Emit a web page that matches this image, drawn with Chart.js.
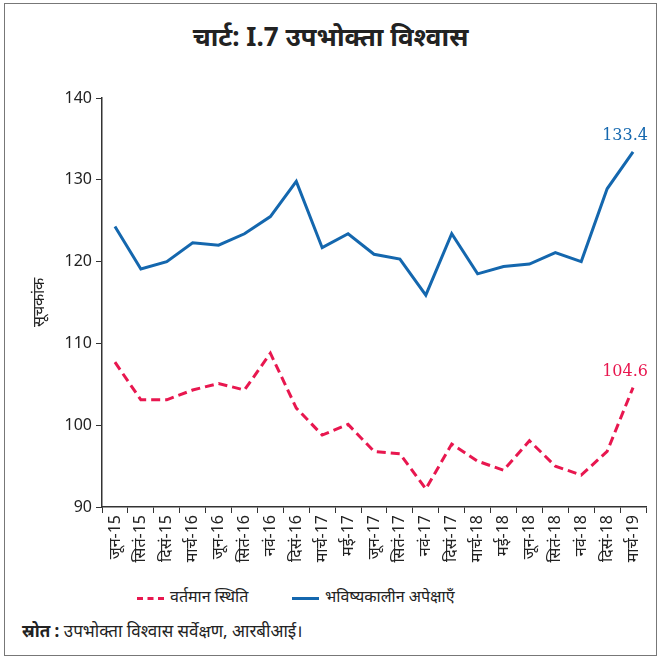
<!DOCTYPE html>
<html lang="hi">
<head>
    <meta charset="UTF-8">
    <title>चार्ट: I.7 उपभोक्ता विश्वास</title>
    <script src="https://cdn.jsdelivr.net/npm/chart.js"></script>
    <style>
        body {
            margin: 0;
            background: #ffffff;
            font-family: "Noto Sans", "DejaVu Sans", sans-serif;
            color: #222;
        }

        .frame {
            position: absolute;
            left: 4px;
            top: 3px;
            width: 651px;
            height: 651px;
            border: 1.5px solid #777;
        }

        h1 {
            position: absolute;
            left: 0;
            top: 18px;
            width: 661px;
            margin: 0;
            text-align: center;
            font-size: 26px;
            font-weight: bold;
        }

        .chart-box {
            position: absolute;
            left: 0;
            top: 0;
            width: 661px;
            height: 580px;
        }

        .legend {
            position: absolute;
            top: 585px;
            left: 0;
            width: 661px;
            font-size: 16px;
        }

        .legend span {
            position: absolute;
            white-space: nowrap;
        }

        .swatch {
            position: absolute;
            width: 27px;
            height: 0;
            top: 12px;
        }

        .source {
            position: absolute;
            left: 22px;
            top: 619px;
            font-size: 17px;
        }
    </style>
</head>
<body>
    <div class="frame"></div>
    <h1>चार्ट: I.7 उपभोक्ता विश्वास</h1>

    <div class="chart-box">
        <canvas id="ci-chart"></canvas>
    </div>

    <div class="legend">
        <div class="swatch" style="left:137px; border-top:3px dashed #e8174f;"></div>
        <span style="left:170px;">वर्तमान स्थिति</span>
        <div class="swatch" style="left:292px; border-top:3px solid #1467ae;"></div>
        <span style="left:325px;">भविष्यकालीन अपेक्षाएँ</span>
    </div>

    <div class="source"><b>स्रोत :</b> उपभोक्ता विश्वास सर्वेक्षण, आरबीआई।</div>

    <script>
        // quarters (survey rounds)
        const labels = ['जून-15', 'सितं-15', 'दिसं-15', 'मार्च-16', 'जून-16', 'सितं-16', 'नवं-16', 'दिसं-16',
            'मार्च-17', 'मई-17', 'जून-17', 'सितं-17', 'नवं-17', 'दिसं-17', 'मार्च-18', 'मई-18',
            'जून-18', 'सितं-18', 'नवं-18', 'दिसं-18', 'मार्च-19'];

        // current situation index
        const currentSituation = [107.7, 103.1, 103.1, 104.3, 105.1, 104.3, 108.8, 102.1,
            98.8, 100.1, 96.8, 96.5, 92.2, 97.7, 95.6, 94.5,
            98.1, 95.0, 93.9, 96.8, 104.6];

        // future expectations index
        const futureExpectations = [124.3, 119.1, 120.0, 122.3, 122.0, 123.4, 125.5, 129.8,
            121.7, 123.4, 120.9, 120.3, 115.9, 123.4, 118.5, 119.4,
            119.7, 121.1, 120.0, 128.9, 133.4];

        const yTicks = [90, 100, 110, 120, 130, 140];

        const RED = '#e8174f';
        const BLUE = '#1467ae';
        const AXIS = '#333333';

        // writes the last value of each series above its end point
        const endLabels = {
            id: 'endLabels',
            afterDatasetsDraw(chart) {
                const ctx = chart.ctx;
                ctx.save();
                ctx.font = '16px "DejaVu Serif", serif';
                ctx.textAlign = 'center';
                ctx.textBaseline = 'bottom';
                chart.data.datasets.forEach((ds, i) => {
                    const pt = chart.getDatasetMeta(i).data[ds.data.length - 1];
                    ctx.fillStyle = ds.borderColor;
                    ctx.fillText(ds.data[ds.data.length - 1].toFixed(1), pt.x - 8, pt.y - 8);
                });
                ctx.restore();
            }
        };

        const ctx = document.getElementById('ci-chart').getContext('2d');
        new Chart(ctx, {
            type: 'line',
            data: {
                labels: labels,
                datasets: [{
                    label: 'वर्तमान स्थिति',
                    data: currentSituation,
                    borderColor: RED,
                    borderWidth: 3,
                    borderDash: [9, 5],
                    pointRadius: 0,
                    tension: 0,
                    fill: false
                }, {
                    label: 'भविष्यकालीन अपेक्षाएँ',
                    data: futureExpectations,
                    borderColor: BLUE,
                    borderWidth: 3,
                    pointRadius: 0,
                    tension: 0,
                    fill: false
                }]
            },
            options: {
                responsive: true,
                maintainAspectRatio: false,
                animation: false,
                layout: {
                    padding: { top: 98, right: 15, left: 30, bottom: 0 }
                },
                scales: {
                    x: {
                        offset: true,
                        grid: { offset: true, drawOnChartArea: false, color: AXIS, tickLength: 6 },
                        border: { color: AXIS, width: 1.5 },
                        ticks: {
                            color: '#222',
                            font: { size: 16, family: '"Noto Sans", sans-serif' },
                            minRotation: 90,
                            maxRotation: 90,
                            autoSkip: false,
                            padding: 2
                        },
                        afterFit: (scale) => { scale.height = 73; }
                    },
                    y: {
                        min: 90,
                        max: 140,
                        afterBuildTicks: (scale) => { scale.ticks = yTicks.map(v => ({ value: v })); },
                        grid: { drawOnChartArea: false, color: AXIS, tickLength: 6 },
                        border: { color: AXIS, width: 1.5 },
                        ticks: {
                            color: '#222',
                            font: { size: 16, family: '"Noto Sans", sans-serif' },
                            padding: 4
                        },
                        title: {
                            display: true,
                            text: 'सूचकांक',
                            color: '#222',
                            font: { size: 16 },
                            padding: 0
                        },
                        afterFit: (scale) => { scale.width = 72; }
                    }
                },
                plugins: {
                    legend: { display: false },
                    tooltip: { enabled: false }
                }
            },
            plugins: [endLabels]
        });
    </script>
</body>
</html>
